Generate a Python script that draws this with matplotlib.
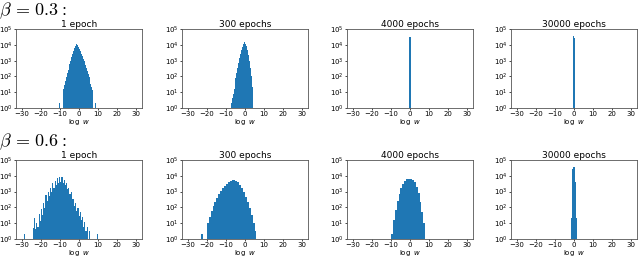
import numpy as np
import matplotlib
matplotlib.use('Agg')
import matplotlib.pyplot as plt

# panel titles / row labels
row_labels = [r'$\beta\,=\,0.3{:}$', r'$\beta\,=\,0.6{:}$']
epochs = ['1 epoch', '300 epochs', '4000 epochs', '30000 epochs']

# --- beta = 0.3 ---
# 1 epoch, bins of width 0.5 starting at -10.5
b03_e1_start, b03_e1_w = -10.5, 0.5
b03_e1 = [2, 0, 0, 0, 16, 28, 50, 90, 160, 250, 400, 630, 1000, 1600, 2500,
          4000, 6000, 8300, 11000, 9500, 7000, 5200, 3800, 2750, 2000, 1300,
          900, 560, 350, 220, 140, 90, 56, 35, 22, 14, 0, 0, 2]
# 300 epochs, width 0.5 starting at -7.5
b03_e300_start, b03_e300_w = -7.5, 0.5
b03_e300 = [2, 4, 8, 15, 35, 80, 170, 350, 700, 1400, 2600, 4500, 7500, 11000,
            14000, 12000, 8000, 4500, 2200, 900, 320, 100, 20]
# 4000 epochs
b03_e4000_start, b03_e4000_w = -0.5, 1.0
b03_e4000 = [30000]
# 30000 epochs
b03_e30000_start, b03_e30000_w = -0.6, 0.6
b03_e30000 = [37000, 27000]

# --- beta = 0.6 ---
# 1 epoch, width 0.6 starting at -29.0
b06_e1_start, b06_e1_w = -29.0, 0.6
b06_e1 = [2, 0, 0, 0, 0, 0, 0, 0, 5, 22, 4, 10, 6, 40, 14, 80, 35, 200, 90,
          600, 250, 1000, 500, 1800, 900, 3500, 1600, 5000, 2500, 7000, 3500,
          8500, 4000, 8000, 3500, 5500, 2500, 3500, 1500, 1800, 700, 900, 350,
          350, 120, 200, 60, 90, 30, 50, 15, 25, 6, 12, 3, 6, 1, 3,
          0, 0, 0, 0, 0, 0, 2]
# 300 epochs, width 1 starting at -23
b06_e300_start, b06_e300_w = -23.0, 1.0
b06_e300 = [2, 0, 0, 11, 25, 60, 125, 220, 400, 700, 1100, 1600, 2200, 3000,
            3800, 4600, 5200, 5500, 5000, 4000, 2750, 1650, 950, 480, 220, 95,
            32, 10, 3]
# 4000 epochs, width 1 starting at -10
b06_e4000_start, b06_e4000_w = -10.0, 1.0
b06_e4000 = [2, 16, 70, 250, 700, 1600, 3200, 4800, 6000, 6600, 6600, 5600,
             3800, 2000, 800, 220, 50, 10]
# 30000 epochs, width 0.6 starting at -1.5
b06_e30000_start, b06_e30000_w = -1.5, 0.6
b06_e30000 = [22, 27000, 35000, 4000, 20]

data = [
    [(b03_e1_start, b03_e1_w, b03_e1), (b03_e300_start, b03_e300_w, b03_e300),
     (b03_e4000_start, b03_e4000_w, b03_e4000), (b03_e30000_start, b03_e30000_w, b03_e30000)],
    [(b06_e1_start, b06_e1_w, b06_e1), (b06_e300_start, b06_e300_w, b06_e300),
     (b06_e4000_start, b06_e4000_w, b06_e4000), (b06_e30000_start, b06_e30000_w, b06_e30000)],
]

fig = plt.figure(figsize=(6.4, 2.58), dpi=100)

lefts = [16, 182, 347, 511]
tops = [29, 160]
W, H = 640.0, 258.0
ah = 79

for r in range(2):
    fig.text(-1 / W, 1 - (15 + r * 131) / H, row_labels[r], fontsize=13,
             ha='left', va='baseline', math_fontfamily='cm')
    for c in range(4):
        ax = fig.add_axes([lefts[c] / W, 1 - (tops[r] + ah) / H, 126 / W, ah / H])
        start, w, counts = data[r][c]
        counts = np.array(counts, dtype=float)
        centers = start + w / 2 + w * np.arange(len(counts))
        ax.bar(centers, counts, width=w, color='#1f77b4', linewidth=0)
        ax.set_yscale('log')
        ax.set_ylim(1, 1e5)
        ax.set_xlim(-33, 33)
        ax.set_xticks([-30, -20, -10, 0, 10, 20, 30])
        ax.set_yticks([1, 10, 100, 1e3, 1e4, 1e5])
        ax.tick_params(labelsize=5, length=1.5, width=0.5, pad=0.8)
        ax.tick_params(which='minor', length=0)
        ax.set_title(epochs[c], fontsize=6.5, pad=1.5)
        ax.set_xlabel(r'$\log\ w$', fontsize=5, labelpad=0)
        for s in ax.spines.values():
            s.set_linewidth(0.6)
            s.set_color('#555555')

fig.savefig('out.png', dpi=100)
